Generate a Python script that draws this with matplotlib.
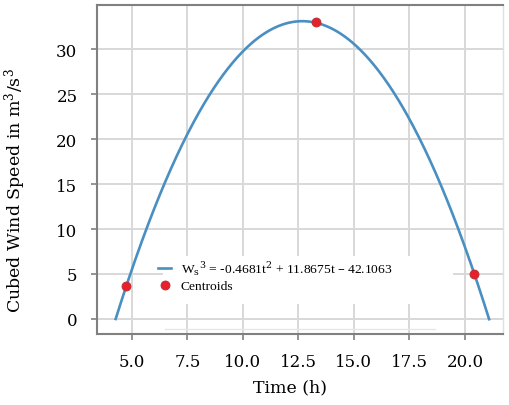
import numpy as np
import matplotlib
matplotlib.use("Agg")
import matplotlib.pyplot as plt
from matplotlib.patches import Rectangle

# Fit coefficients (from legend) and curve range
coef = [-0.4681, 11.8675, -42.1063]
t_range = [4.265, 21.09]

# Centroids
cent_t = [4.73, 13.29, 20.40]
cent_w = [3.7, 33.0, 5.0]

xticks = [5.0, 7.5, 10.0, 12.5, 15.0, 17.5, 20.0]
xticklabels = ["5.0", "7.5", "10.0", "12.5", "15.0", "17.5", "20.0"]
yticks = [0, 5, 10, 15, 20, 25, 30]

plt.rcParams['font.family'] = ['DejaVu Serif']
plt.rcParams['mathtext.fontset'] = 'dejavuserif'

fig = plt.figure(figsize=(5.10, 4.06), dpi=100)
ax = fig.add_axes([0.190, 0.175, 0.796, 0.810])

t = np.linspace(t_range[0], t_range[1], 400)
w = np.polyval(coef, t)
line, = ax.plot(t, w, color='#4a8fc2', lw=1.9, zorder=3,
                label=r'W$_\mathrm{s}$$^3$ = -0.4681t$^2$ + 11.8675t – 42.1063')
pts = ax.scatter(cent_t, cent_w, s=42, color='#e8202a', edgecolors='#b0303a',
                 linewidths=0.6, zorder=4, label='Centroids')

ax.set_xlim(3.42, 21.71)
ax.set_ylim(-1.67, 34.9)
ax.set_xticks(xticks)
ax.set_xticklabels(xticklabels)
ax.set_yticks(yticks)
ax.grid(True, color='#d8d8d8', lw=1.4, zorder=0)
ax.set_axisbelow(True)

for s in ['left', 'bottom', 'top']:
    ax.spines[s].set_color('#808080')
    ax.spines[s].set_linewidth(1.5)
ax.spines['right'].set_color('#e0e0e0')
ax.spines['right'].set_linewidth(1.0)

ax.tick_params(axis='both', labelsize=12, color='#808080', length=4, width=1.2, pad=10)

# white patch behind legend
ax.add_patch(Rectangle((0.163, 0.091), 0.714, 0.146, transform=ax.transAxes,
                       facecolor='white', edgecolor='none', zorder=1))
ax.plot([0.168, 0.834], [0.015, 0.015], transform=ax.transAxes, color='#e6e6e6', lw=1.0, zorder=1)

leg = ax.legend(handles=[line, pts], loc='upper left', bbox_to_anchor=(0.127, 0.258),
                frameon=False, prop={'family': 'Liberation Serif', 'size': 9.7},
                handlelength=1.0, handletextpad=0.7, labelspacing=0.2, borderpad=0.2)

ax.set_xlabel('Time (h)', fontsize=12.5, labelpad=10)
ax.xaxis.set_label_coords(0.475, -0.135)
ax.set_ylabel(r'Cubed Wind Speed in m$^3$/s$^3$', fontsize=12.5)
ax.yaxis.set_label_coords(-0.170, 0.44)

fig.savefig('out.png', dpi=100)
